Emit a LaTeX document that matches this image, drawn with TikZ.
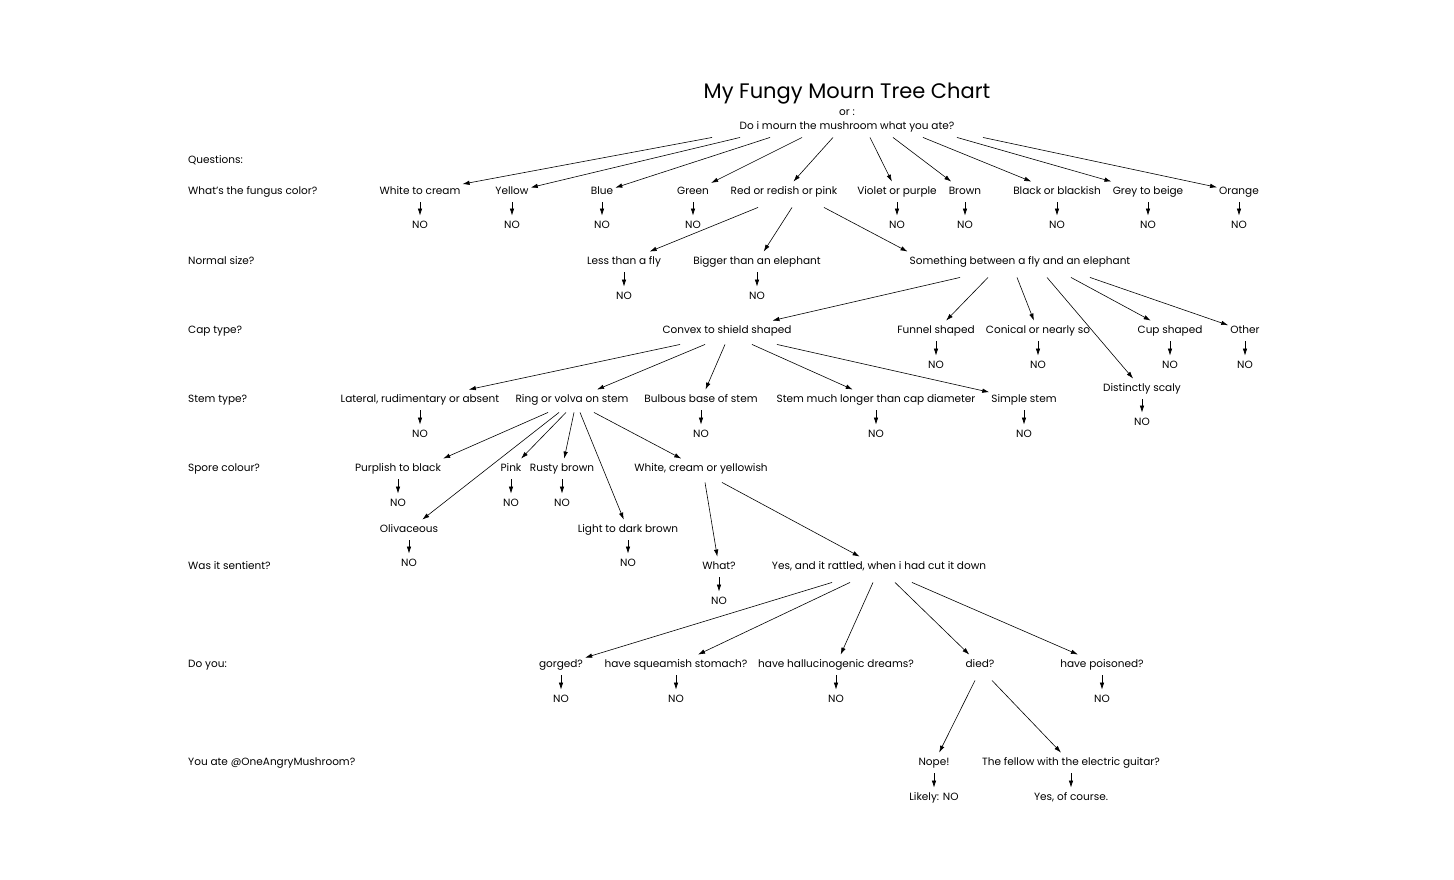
\documentclass[tikz,border=0pt]{standalone}
\usepackage{fontspec}
\setmainfont{Poppins}
\usepackage{tikz}
\usetikzlibrary{positioning, arrows.meta, calc}

\begin{document}
\begin{tikzpicture}[x=1pt, y=-1pt,
  txt/.style={font=\fontsize{10.5}{12}\selectfont, text height=8pt, text depth=2.5pt, inner xsep=2pt, inner ysep=5pt},
  qst/.style={txt, anchor=west, inner xsep=0pt},
  arr/.style={-{Latex[length=7pt,width=4.5pt]}, line width=0.6pt}]
\useasboundingbox (0,-2) rectangle (1454,877);

% Title
\node (title) at (847,92) {\fontsize{21}{24}\selectfont My Fungy Mourn Tree Chart};
\node[txt] (or) at (847,111) {or :};
\node[txt] (top) at (847,125) {Do i mourn the mushroom what you ate?};

% Questions
\node[qst] (q0) at (188,159) {Questions:};
\node[qst] (q1) at (188,190) {What's the fungus color?};
\node[qst] (q2) at (188,260) {Normal size?};
\node[qst] (q3) at (188,329) {Cap type?};
\node[qst] (q4) at (188,398) {Stem type?};
\node[qst] (q5) at (188,467) {Spore colour?};
\node[qst] (q6) at (188,565) {Was it sentient?};
\node[qst] (q7) at (188,663) {Do you:};
\node[qst] (q8) at (188,761) {You ate @OneAngryMushroom?};

% Fungus color
\node[txt] (white) at (420,190) {White to cream}; \node[txt] (whiteno) at (420,224) {NO};
\node[txt] (yellow) at (512,190) {Yellow}; \node[txt] (yellowno) at (512,224) {NO};
\node[txt] (blue) at (602,190) {Blue}; \node[txt] (blueno) at (602,224) {NO};
\node[txt] (green) at (693,190) {Green}; \node[txt] (greenno) at (693,224) {NO};
\node[txt] (red) at (784,190) {Red or redish or pink};
\node[txt] (violet) at (897,190) {Violet or purple}; \node[txt] (violetno) at (897,224) {NO};
\node[txt] (brown) at (965,190) {Brown}; \node[txt] (brownno) at (965,224) {NO};
\node[txt] (black) at (1057,190) {Black or blackish}; \node[txt] (blackno) at (1057,224) {NO};
\node[txt] (grey) at (1148,190) {Grey to beige}; \node[txt] (greyno) at (1148,224) {NO};
\node[txt] (orange) at (1239,190) {Orange}; \node[txt] (orangeno) at (1239,224) {NO};

\draw[arr] ([xshift=-135pt]top.south) -- (white);
\draw[arr] ([xshift=-107pt]top.south) -- (yellow);
\draw[arr] ([xshift=-77pt]top.south) -- (blue);
\draw[arr] ([xshift=-45pt]top.south) -- (green);
\draw[arr] ([xshift=-14pt]top.south) -- (red);
\draw[arr] ([xshift=23pt]top.south) -- (violet);
\draw[arr] ([xshift=46pt]top.south) -- (brown);
\draw[arr] ([xshift=76pt]top.south) -- (black);
\draw[arr] ([xshift=110pt]top.south) -- (grey);
\draw[arr] ([xshift=136pt]top.south) -- (orange);
\draw[arr] (white) -- (whiteno);
\draw[arr] (yellow) -- (yellowno);
\draw[arr] (blue) -- (blueno);
\draw[arr] (green) -- (greenno);
\draw[arr] (violet) -- (violetno);
\draw[arr] (brown) -- (brownno);
\draw[arr] (black) -- (blackno);
\draw[arr] (grey) -- (greyno);
\draw[arr] (orange) -- (orangeno);

% Normal size
\node[txt] (less) at (624,260) {Less than a fly}; \node[txt] (lessno) at (624,295) {NO};
\node[txt] (bigger) at (757,260) {Bigger than an elephant}; \node[txt] (biggerno) at (757,295) {NO};
\node[txt] (between) at (1020,260) {Something between a fly and an elephant};

\draw[arr] ([shift={(-26,5)}]red.south) -- (less);
\draw[arr] ([shift={(8,5)}]red.south) -- (bigger);
\draw[arr] ([shift={(40,5)}]red.south) -- (between.north west);
\draw[arr] (less) -- (lessno);
\draw[arr] (bigger) -- (biggerno);

% Cap type
\node[txt] (convex) at (727,329) {Convex to shield shaped};
\node[txt] (funnel) at (936,329) {Funnel shaped}; \node[txt] (funnelno) at (936,364) {NO};
\node[txt] (conical) at (1038,329) {Conical or nearly so}; \node[txt] (conicalno) at (1038,364) {NO};
\node[txt] (cup) at (1170,329) {Cup shaped}; \node[txt] (cupno) at (1170,364) {NO};
\node[txt] (other) at (1245,329) {Other}; \node[txt] (otherno) at (1245,364) {NO};
\node[txt] (scaly) at (1142,387) {Distinctly scaly}; \node[txt] (scalyno) at (1142,421) {NO};

\draw[arr] ([shift={(-60,5)}]between.south) -- (convex);
\draw[arr] ([shift={(-32,5)}]between.south) -- (funnel);
\draw[arr] ([shift={(-3,5)}]between.south) -- (conical);
\draw[arr] ([shift={(27,5)}]between.south) -- (scaly);
\draw[arr] ([shift={(51,5)}]between.south) -- (cup);
\draw[arr] ([shift={(70,5)}]between.south) -- (other);
\draw[arr] (funnel) -- (funnelno);
\draw[arr] (conical) -- (conicalno);
\draw[arr] (cup) -- (cupno);
\draw[arr] (other) -- (otherno);
\draw[arr] (scaly) -- (scalyno);

% Stem type
\node[txt] (lateral) at (420,398) {Lateral, rudimentary or absent}; \node[txt] (lateralno) at (420,433) {NO};
\node[txt] (ring) at (572,398) {Ring or volva on stem};
\node[txt] (bulbous) at (701,398) {Bulbous base of stem}; \node[txt] (bulbousno) at (701,433) {NO};
\node[txt] (longer) at (876,398) {Stem much longer than cap diameter}; \node[txt] (longerno) at (876,433) {NO};
\node[txt] (simple) at (1024,398) {Simple stem}; \node[txt] (simpleno) at (1024,433) {NO};

\draw[arr] ([shift={(-47,3)}]convex.south) -- (lateral);
\draw[arr] ([shift={(-22,3)}]convex.south) -- (ring);
\draw[arr] ([shift={(-2,3)}]convex.south) -- (bulbous);
\draw[arr] ([shift={(25,3)}]convex.south) -- (longer);
\draw[arr] ([shift={(50,3)}]convex.south) -- (simple);
\draw[arr] (lateral) -- (lateralno);
\draw[arr] (bulbous) -- (bulbousno);
\draw[arr] (longer) -- (longerno);
\draw[arr] (simple) -- (simpleno);

% Spore colour
\node[txt] (purplish) at (398,467) {Purplish to black}; \node[txt] (purplishno) at (398,502) {NO};
\node[txt] (pink) at (511,467) {Pink}; \node[txt] (pinkno) at (511,502) {NO};
\node[txt] (rusty) at (562,467) {Rusty brown}; \node[txt] (rustyno) at (562,502) {NO};
\node[txt] (cream) at (701,467) {White, cream or yellowish};
\node[txt] (olive) at (409,528) {Olivaceous}; \node[txt] (oliveno) at (409,562) {NO};
\node[txt] (light) at (628,528) {Light to dark brown}; \node[txt] (lightno) at (628,562) {NO};

\draw[arr] ([shift={(-24,2)}]ring.south) -- (purplish.north east);
\draw[arr] ([shift={(-13,2)}]ring.south) -- (olive);
\draw[arr] ([shift={(-6,2)}]ring.south) -- (pink);
\draw[arr] ([shift={(2,2)}]ring.south) -- (rusty);
\draw[arr] ([shift={(8,2)}]ring.south) -- (light);
\draw[arr] ([shift={(22,2)}]ring.south) -- (cream);
\draw[arr] (purplish) -- (purplishno);
\draw[arr] (pink) -- (pinkno);
\draw[arr] (rusty) -- (rustyno);
\draw[arr] (olive) -- (oliveno);
\draw[arr] (light) -- (lightno);

% Was it sentient
\node[txt] (what) at (719,565) {What?}; \node[txt] (whatno) at (719,600) {NO};
\node[txt] (yes) at (879,565) {Yes, and it rattled, when i had cut it down};

\draw[arr] ([shift={(4,3)}]cream.south) -- (what);
\draw[arr] ([shift={(21,3)}]cream.south) -- (yes);
\draw[arr] (what) -- (whatno);

% Do you
\node[txt] (gorged) at (561,663) {gorged?}; \node[txt] (gorgedno) at (561,698) {NO};
\node[txt] (squeam) at (676,663) {have squeamish stomach?}; \node[txt] (squeamno) at (676,698) {NO};
\node[txt] (halluc) at (836,663) {have hallucinogenic dreams?}; \node[txt] (hallucno) at (836,698) {NO};
\node[txt] (died) at (980,663) {died?};
\node[txt] (poisoned) at (1102,663) {have poisoned?}; \node[txt] (poisonedno) at (1102,698) {NO};

\draw[arr] ([shift={(-47,5)}]yes.south) -- (gorged);
\draw[arr] ([shift={(-29,5)}]yes.south) -- (squeam);
\draw[arr] ([shift={(-6,5)}]yes.south) -- (halluc);
\draw[arr] ([shift={(16,5)}]yes.south) -- (died);
\draw[arr] ([shift={(33,5)}]yes.south) -- (poisoned);
\draw[arr] (gorged) -- (gorgedno);
\draw[arr] (squeam) -- (squeamno);
\draw[arr] (halluc) -- (hallucno);
\draw[arr] (poisoned) -- (poisonedno);

% You ate
\node[txt] (nope) at (934,761) {Nope!}; \node[txt] (likely) at (934,796) {Likely: NO};
\node[txt] (fellow) at (1071,761) {The fellow with the electric guitar?}; \node[txt] (course) at (1071,796) {Yes, of course.};

\draw[arr] ([shift={(-5,5)}]died.south) -- (nope);
\draw[arr] ([shift={(12,5)}]died.south) -- (fellow);
\draw[arr] (nope) -- (likely);
\draw[arr] (fellow) -- (course);
\end{tikzpicture}
\end{document}
